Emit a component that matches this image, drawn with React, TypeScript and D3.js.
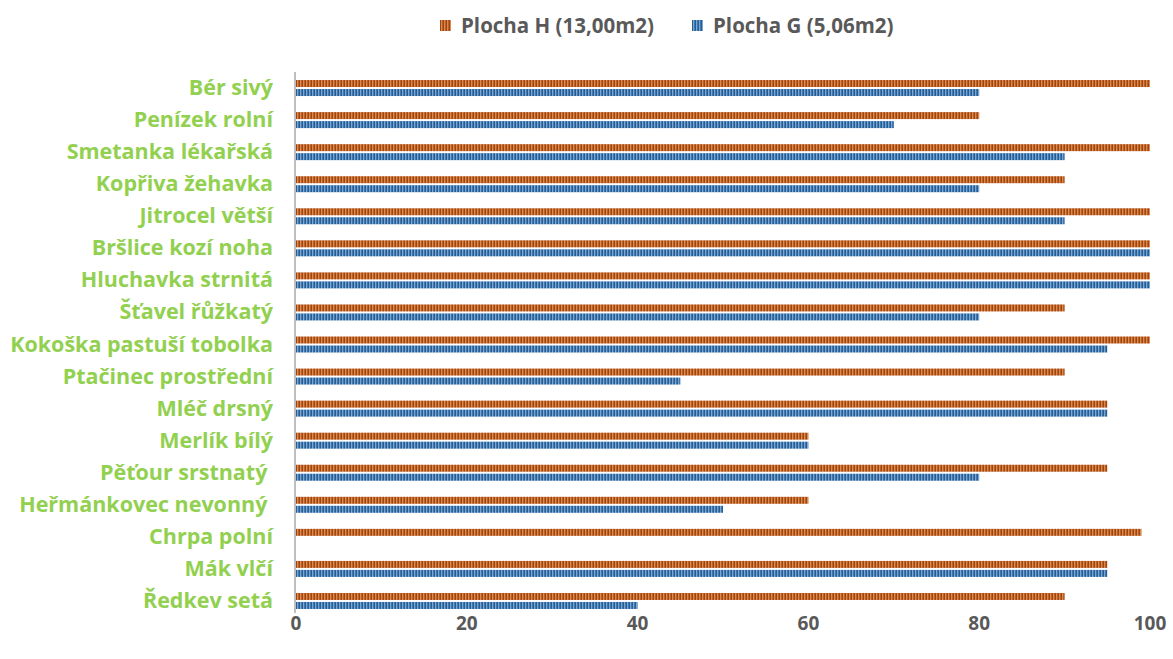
import React from "react";
import * as d3 from "d3";

const categories = [
  "Bér sivý",
  "Penízek rolní",
  "Smetanka lékařská",
  "Kopřiva žehavka",
  "Jitrocel větší",
  "Bršlice kozí noha",
  "Hluchavka strnitá",
  "Šťavel řůžkatý",
  "Kokoška pastuší tobolka",
  "Ptačinec prostřední",
  "Mléč drsný",
  "Merlík bílý",
  "Pěťour srstnatý ",
  "Heřmánkovec nevonný ",
  "Chrpa polní",
  "Mák vlčí",
  "Ředkev setá",
];
const seriesH = [100, 80, 100, 90, 100, 100, 100, 90, 100, 90, 95, 60, 95, 60, 99, 95, 90];
const seriesG = [80, 70, 90, 80, 90, 100, 100, 80, 95, 45, 95, 60, 80, 50, 0, 95, 40];
const xTicks = [0, 20, 40, 60, 80, 100];
const seriesNames = ["Plocha H (13,00m2)", "Plocha G (5,06m2)"];

const FONT = "'Open Sans', sans-serif";

export default function App() {
  const width = 1173;
  const height = 659;
  const x = d3.scaleLinear().domain([0, 100]).range([296, 1150]);
  const y = d3.scaleBand<string>().domain(categories).range([72, 617]).padding(0);
  const barH = 7;

  return (
    <svg width={width} height={height} style={{ position: "absolute", left: 0, top: 0, background: "#fff" }}>
      <defs>
        <pattern id="patH" width="3" height="10" patternUnits="userSpaceOnUse">
          <rect width="3" height="10" fill="#C0601F" />
          <rect x="2" width="1" height="10" fill="#9E4612" />
          <rect x="0" width="1" height="10" fill="#D98A55" />
        </pattern>
        <pattern id="patG" width="3" height="10" patternUnits="userSpaceOnUse">
          <rect width="3" height="10" fill="#3F78B0" />
          <rect x="2" width="1" height="10" fill="#245E96" />
          <rect x="0" width="1" height="10" fill="#7FA6CF" />
        </pattern>
      </defs>

      {/* legend */}
      <g fontFamily={FONT} fontWeight="bold" fontSize="20.5" fill="#595959">
        <rect x={440} y={20} width={11} height={11} fill="url(#patH)" />
        <text x={461} y={33}>{seriesNames[0]}</text>
        <rect x={692} y={20} width={11} height={11} fill="url(#patG)" />
        <text x={713} y={33}>{seriesNames[1]}</text>
      </g>

      {/* bars */}
      {categories.map((c, i) => {
        const cy = (y(c) as number) + y.bandwidth() / 2;
        return (
          <g key={c}>
            {seriesH[i] > 0 && (
              <rect x={x(0)} y={cy - barH - 1} width={x(seriesH[i]) - x(0)} height={barH} fill="url(#patH)" />
            )}
            {seriesG[i] > 0 && (
              <rect x={x(0)} y={cy + 1} width={x(seriesG[i]) - x(0)} height={barH} fill="url(#patG)" />
            )}
          </g>
        );
      })}

      {/* axis line */}
      <line x1={x(0) - 1} x2={x(0) - 1} y1={72} y2={613} stroke="#BFBFBF" strokeWidth={2} />

      {/* category labels */}
      <g fontFamily={FONT} fontWeight="bold" fontSize="21.5" fill="#92D050">
        {categories.map((c) => (
          <text
            key={c}
            x={273}
            y={(y(c) as number) + y.bandwidth() / 2 + 7}
            textAnchor="end"
            style={{ whiteSpace: "pre" }}
          >
            {c}
          </text>
        ))}
      </g>

      {/* x tick labels */}
      <g fontFamily={FONT} fontWeight="bold" fontSize="19" fill="#595959">
        {xTicks.map((t) => (
          <text key={t} x={x(t)} y={630} textAnchor="middle">
            {t}
          </text>
        ))}
      </g>
    </svg>
  );
}
